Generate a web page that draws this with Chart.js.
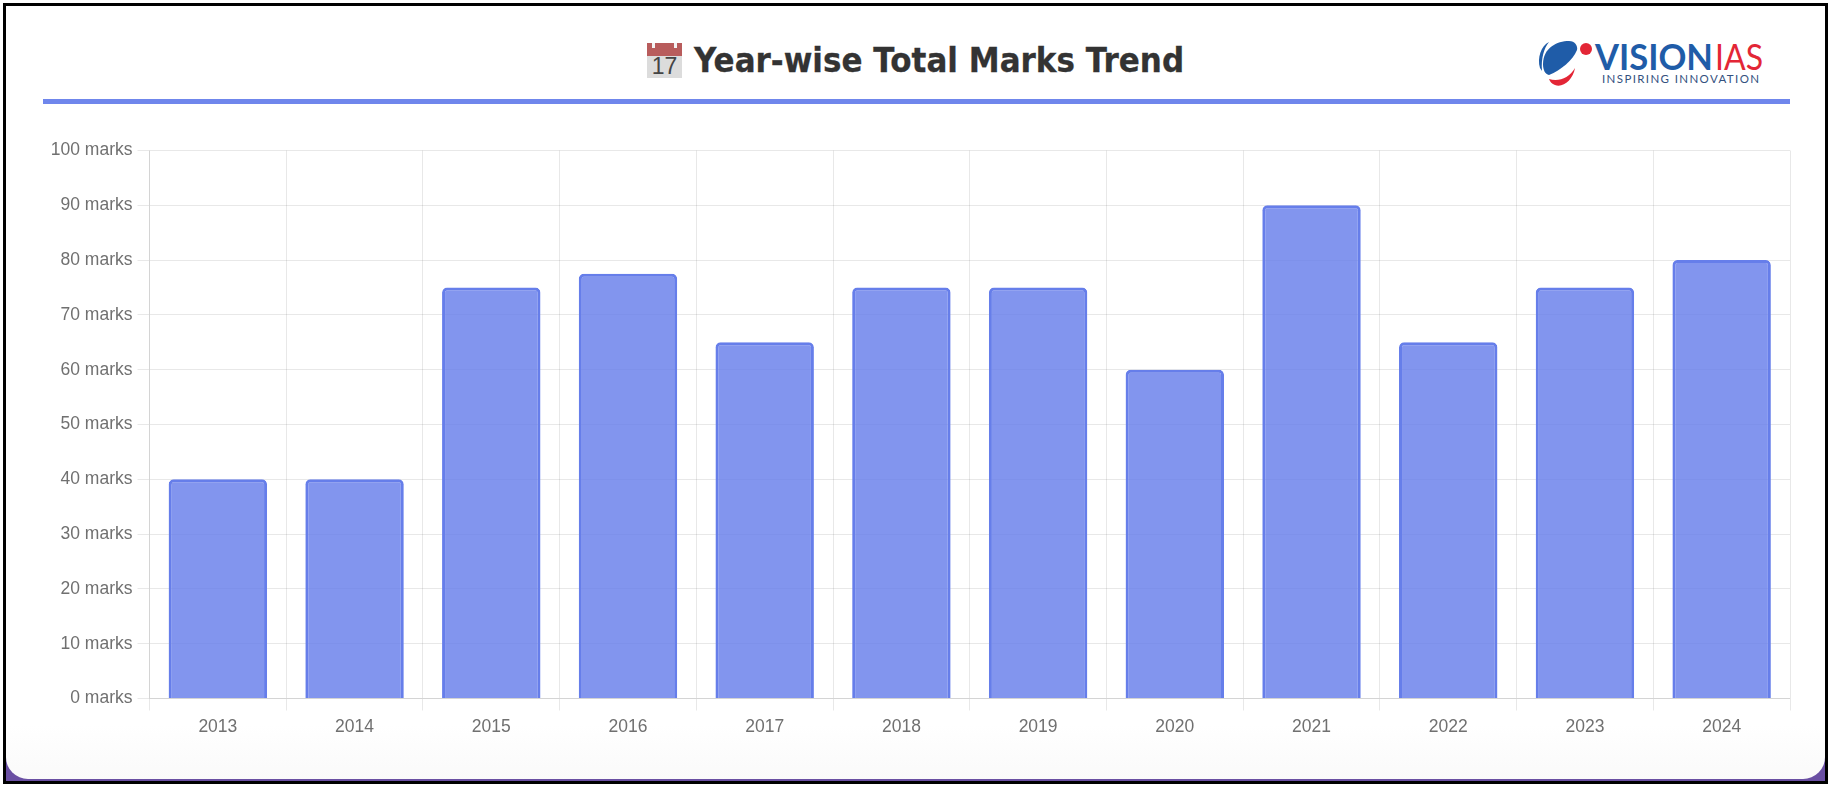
<!DOCTYPE html>
<html>
<head>
<meta charset="utf-8">
<title>Year-wise Total Marks Trend</title>
<script src="https://cdn.jsdelivr.net/npm/chart.js@4"></script>
<style>
    html, body { margin: 0; padding: 0; width: 1834px; height: 792px; background: #fff; overflow: hidden; }
    .frame { position: absolute; left: 3px; top: 3px; width: 1825px; height: 781px; box-sizing: border-box; border: 3px solid #000; background: #6a4fa3; }
    .card { position: absolute; left: 0; top: 0; right: 0; bottom: 2px; border-radius: 0 0 22px 22px; background: linear-gradient(to bottom, #fff 93%, #fafafa 100%); }
    .title { position: absolute; left: 694px; top: 40px; font: bold 34px "DejaVu Sans", sans-serif; color: #333; white-space: nowrap; transform-origin: 0 0; transform: scaleX(0.912); -webkit-text-stroke: 0.3px #333; }
    .rule { position: absolute; left: 43px; top: 99px; width: 1747px; height: 5px; background: #6f86ec; }
    .cal { position: absolute; left: 647px; top: 43px; width: 35px; height: 35px; background: #dcdcdc; font: 23px "Liberation Sans", sans-serif; color: #444; text-align: center; line-height: 47px; overflow: hidden; }
    .cal i { position: absolute; left: 0; top: 0; width: 100%; height: 13px; background: #b85c5c; }
    .cal b { position: absolute; top: 0; width: 3px; height: 5px; background: #f4f4f4; }
    .logo { position: absolute; left: 1535px; top: 38px; }
    .wrap { position: absolute; left: 43px; top: 135px; width: 1760px; height: 610px; }
</style>
</head>
<body>
<div class="frame"><div class="card"></div></div>
<div class="cal"><i></i><b style="left:5px"></b><b style="right:5px"></b>17</div>
<div class="title">Year-wise Total Marks Trend</div>
<svg class="logo" width="235" height="52" viewBox="0 0 235 52">
    <path d="M8 26 C8 10 22 3 34 3 C40 3 43 8 42 12 C38 22 26 32 14 37 C10 36 8 32 8 26 Z" fill="#1f5ca8"/>
    <path d="M5 30 C2 20 6 8 14 4 C9 10 6 20 7 33 Z" fill="#1f5ca8"/>
    <path d="M14 41 C24 44 34 40 40 30 C38 42 28 50 20 47 C17 46 15 44 14 41 Z" fill="#e32636"/>
    <circle cx="51" cy="11" r="6" fill="#e32636"/>
    <text x="60" y="32" font-family="Lato, sans-serif" font-size="36" font-weight="700" fill="#1f5ca8" textLength="118" lengthAdjust="spacingAndGlyphs">VISION</text>
    <text x="180" y="32" font-family="Lato, sans-serif" font-size="36" fill="#e32636" textLength="48" lengthAdjust="spacingAndGlyphs">IAS</text>
    <text x="67" y="45" font-family="Lato, sans-serif" font-size="11.5" fill="#34507e" textLength="157">INSPIRING  INNOVATION</text>
</svg>
<div class="rule"></div>
<div class="wrap"><canvas id="marks-chart"></canvas></div>
<script>
    // Chart data
    const years = ['2013', '2014', '2015', '2016', '2017', '2018', '2019', '2020', '2021', '2022', '2023', '2024'];
    const marks = [40, 40, 75, 77.5, 65, 75, 75, 60, 90, 65, 75, 80];
    const yTicks = { min: 0, max: 100, step: 10 };
    const tickSuffix = ' marks';

    const ctx = document.getElementById('marks-chart').getContext('2d');
    new Chart(ctx, {
        type: 'bar',
        data: {
            labels: years,
            datasets: [{
                label: 'Total Marks',
                data: marks,
                backgroundColor: 'rgba(102, 126, 234, 0.82)',
                borderColor: '#667eea',
                borderWidth: 3,
                borderRadius: 5,
                borderSkipped: 'bottom',
                barPercentage: 0.9,
                categoryPercentage: 0.8,
            }]
        },
        options: {
            responsive: true,
            maintainAspectRatio: false,
            animation: false,
            layout: { padding: { top: 12.5, right: 13, bottom: 0.5 } },
            plugins: {
                legend: { display: false },
                title: { display: false },
            },
            scales: {
                x: {
                    afterFit: function (scale) { scale.height = 46; },
                    grid: { color: 'rgba(0, 0, 0, 0.09)', tickLength: 12 },
                    border: { color: 'rgba(0, 0, 0, 0.09)' },
                    ticks: { color: '#707070', font: { family: '"Liberation Sans"', size: 17.5 }, padding: 6 },
                },
                y: {
                    min: yTicks.min,
                    max: yTicks.max,
                    afterFit: function (scale) { scale.width = 106.5; },
                    grid: { color: 'rgba(0, 0, 0, 0.09)', tickLength: 12 },
                    border: { color: 'rgba(0, 0, 0, 0.09)' },
                    ticks: {
                        stepSize: yTicks.step,
                        color: '#707070',
                        font: { family: '"Liberation Sans"', size: 17.5 },
                        padding: 5,
                        callback: function (value) { return value + tickSuffix; },
                    },
                },
            },
        },
    });
</script>
</body>
</html>
